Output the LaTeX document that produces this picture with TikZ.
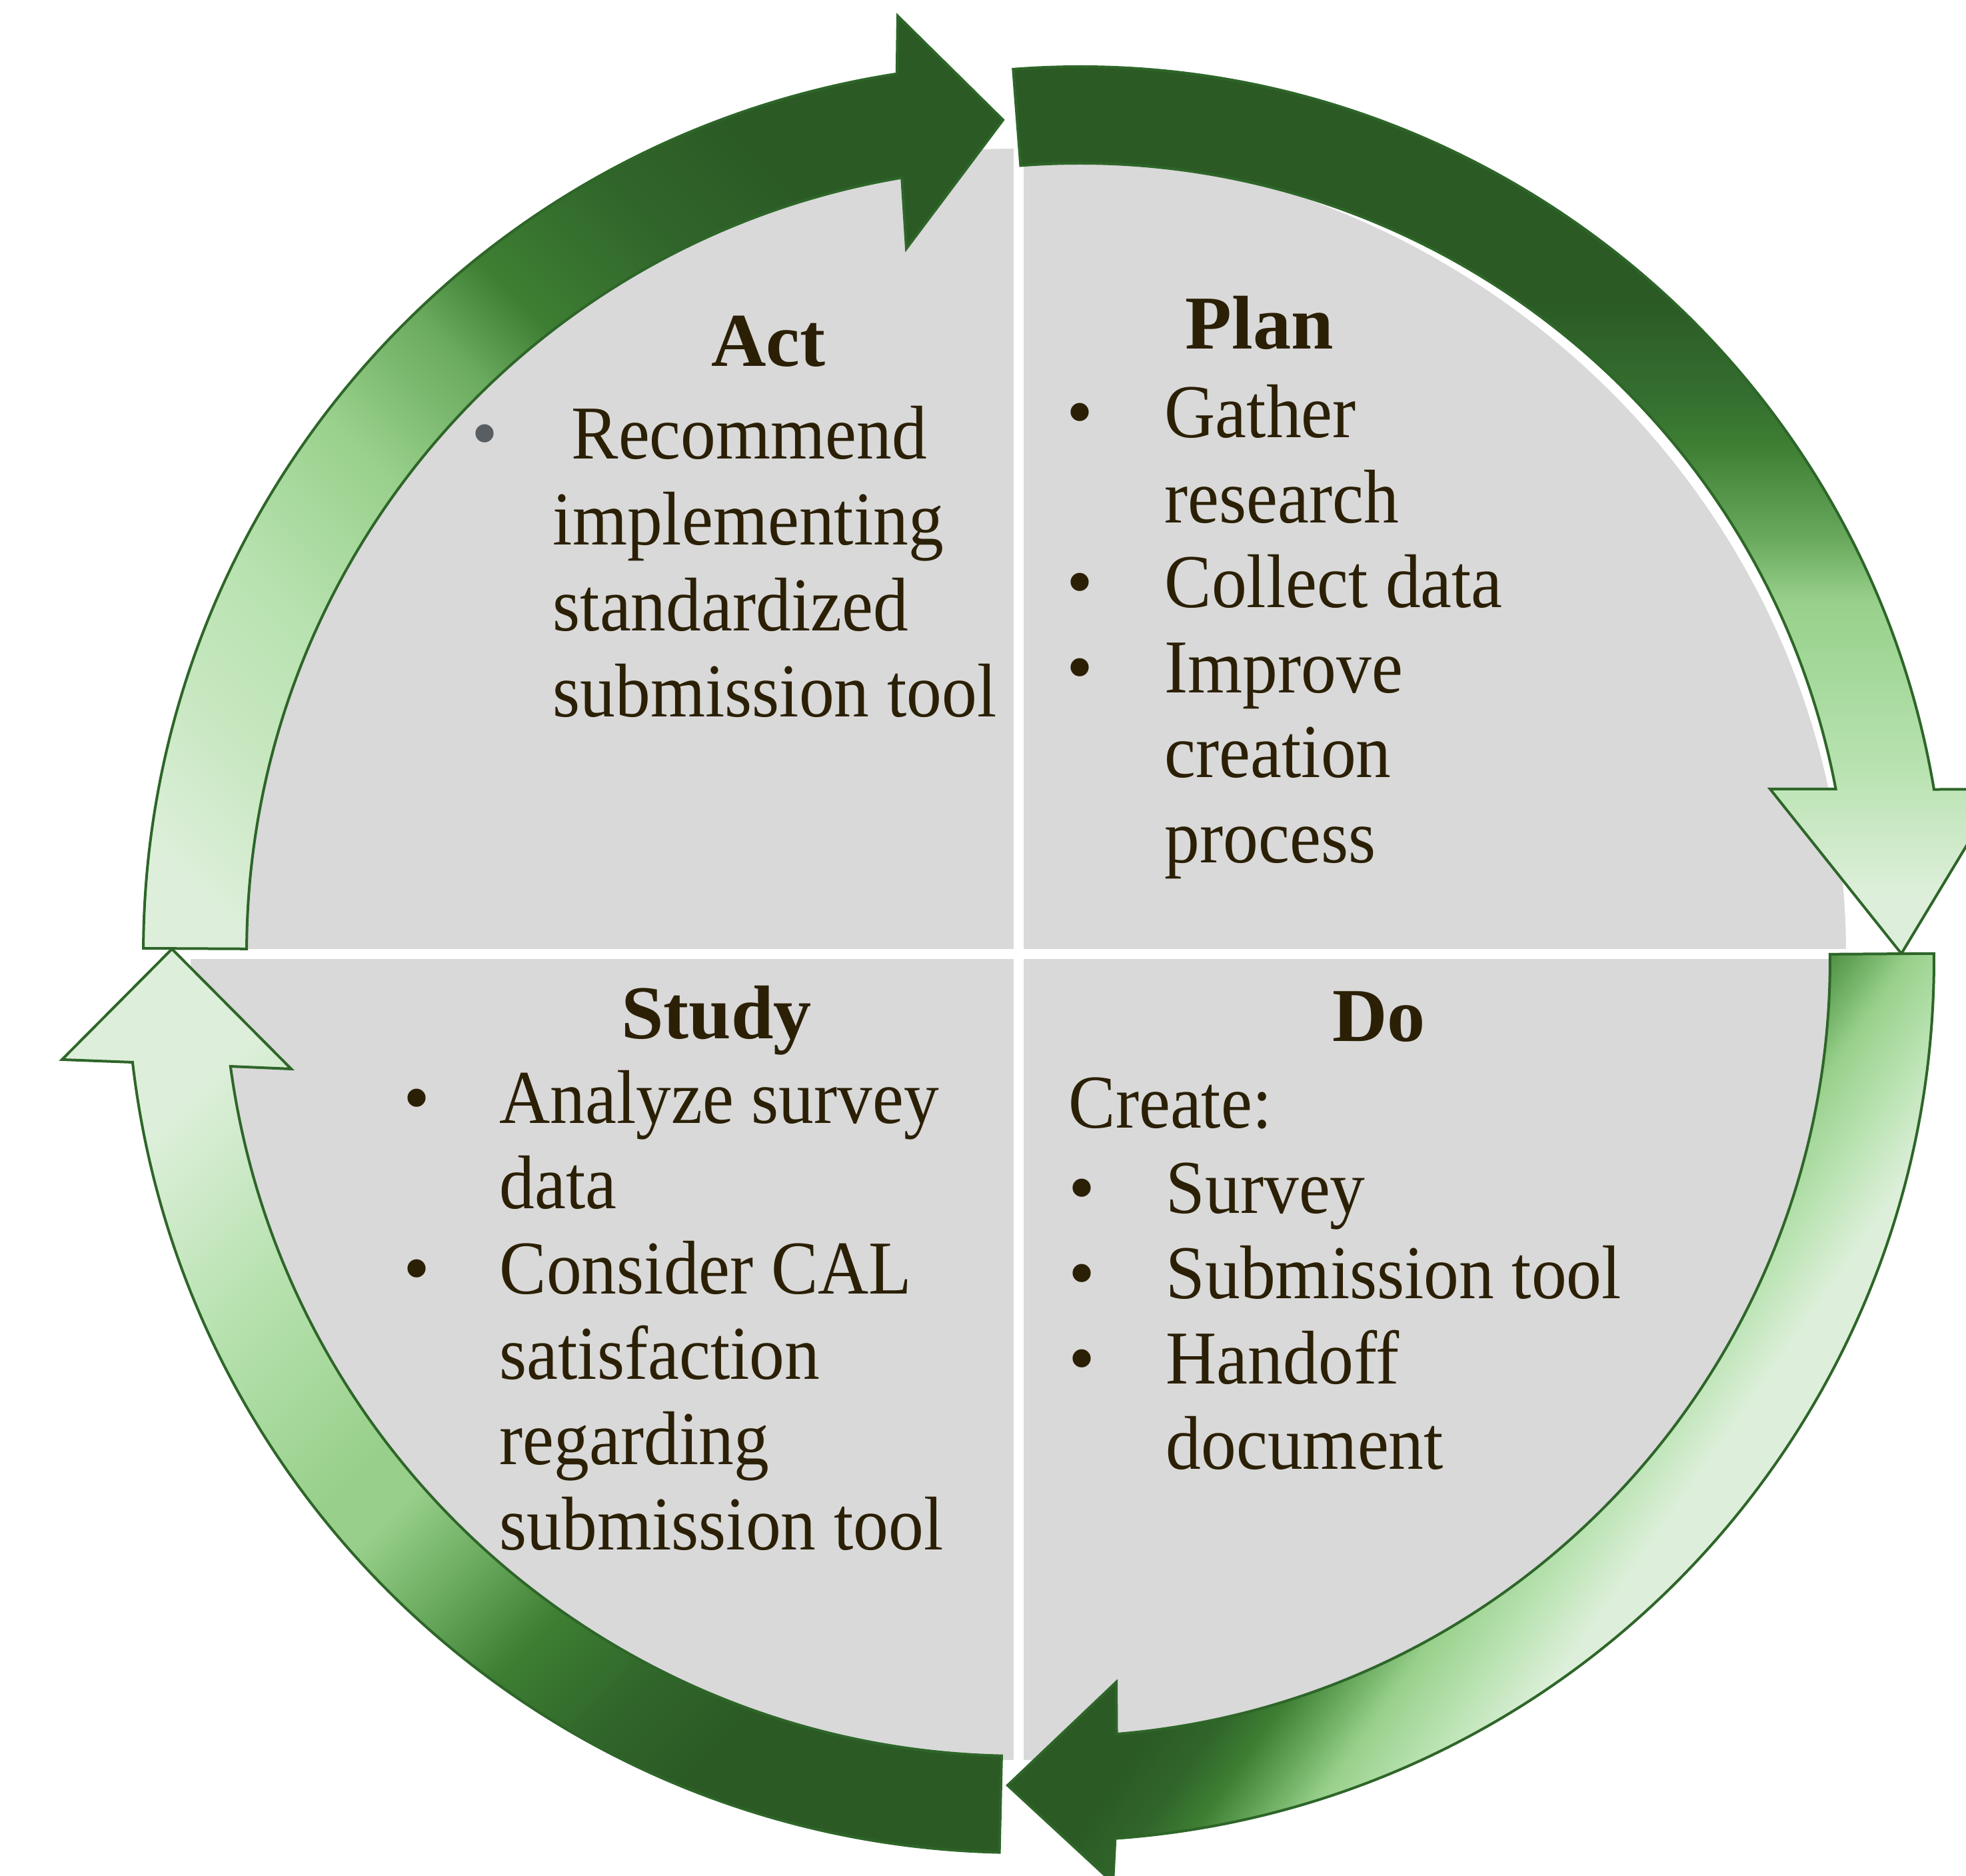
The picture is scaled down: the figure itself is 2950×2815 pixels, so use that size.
\documentclass[tikz,border=0pt]{standalone}
\usepackage{fontspec}
\setmainfont{Liberation Serif}
\newfontfamily\bodyfont[FakeStretch=0.924]{Liberation Serif}
\usetikzlibrary{calc}

\definecolor{gdark}{RGB}{43,90,37}
\definecolor{gdarkish}{RGB}{48,101,42}
\definecolor{gmidd}{RGB}{53,112,48}
\definecolor{gmed}{RGB}{62,127,51}
\definecolor{gmix}{RGB}{106,170,94}
\definecolor{glight}{RGB}{152,208,139}
\definecolor{glighter}{RGB}{163,216,153}
\definecolor{gsoft}{RGB}{184,226,176}
\definecolor{gsofter}{RGB}{200,231,193}
\definecolor{gpale}{RGB}{221,239,218}
\definecolor{rimgreen}{RGB}{46,102,41}
\definecolor{quadgray}{RGB}{217,217,217}
\definecolor{txtbrown}{RGB}{43,32,6}
\definecolor{dotgray}{RGB}{89,94,99}

% gradients of the four arrows
\pgfdeclareverticalshading{plangrad}{100bp}{color(0bp)=(gpale); color(44.6bp)=(gpale);
  color(47.75bp)=(gsoft); color(50.25bp)=(glighter); color(51.9bp)=(glight);
  color(53.4bp)=(gmix); color(55.75bp)=(gmed); color(56.9bp)=(gmidd);
  color(59.4bp)=(gdark); color(100bp)=(gdark)}
\pgfdeclareverticalshading{dograd}{100bp}{color(0bp)=(gdark); color(48.2bp)=(gdark);
  color(49.55bp)=(gdarkish); color(50.63bp)=(gmed); color(51.72bp)=(gmix);
  color(52.72bp)=(glight); color(54.22bp)=(gsoft); color(55.88bp)=(gpale);
  color(100bp)=(gpale)}
\pgfdeclareverticalshading{actgrad}{100bp}{color(0bp)=(gpale); color(36.1bp)=(gpale);
  color(39.4bp)=(gsofter); color(42.7bp)=(gsoft); color(46.9bp)=(glight);
  color(50.23bp)=(gmix); color(52.23bp)=(gmed); color(56.07bp)=(gdarkish);
  color(59.4bp)=(gdark); color(100bp)=(gdark)}
\pgfdeclareverticalshading{studygrad}{100bp}{color(0bp)=(gpale); color(37.73bp)=(gpale);
  color(42.32bp)=(gsoft); color(47.4bp)=(glight); color(48.73bp)=(glight);
  color(51.15bp)=(gmix); color(53.43bp)=(gmed); color(56.4bp)=(gdarkish);
  color(58.8bp)=(gdark); color(100bp)=(gdark)}

\tikzset{
  arrow line/.style={draw=rimgreen, line width=0.4mm},
  plan fill/.style={path picture={\shade[shading=plangrad] (700,300) rectangle (3700,3300);}},
  do fill/.style={path picture={\shade[shading=dograd, shading angle=-125] (700,-785) rectangle (3700,2215);}},
  act fill/.style={path picture={\shade[shading=actgrad, shading angle=-45] (-650,600) rectangle (2350,3600);}},
  study fill/.style={path picture={\shade[shading=studygrad, shading angle=-135] (-650,-800) rectangle (2350,2200);}},
  head/.style={font=\fontsize{32.5pt}{36pt}\selectfont\bfseries, text=txtbrown, inner sep=0pt, anchor=base},
  body/.style={font=\bodyfont\fontsize{32.5pt}{36pt}\selectfont, text=txtbrown, inner sep=0pt, anchor=base west},
  dot/.style={font=\fontsize{32.5pt}{36pt}\selectfont, text=txtbrown, inner sep=0pt, anchor=base west},
}

% center, inner r, outer r, tail angle, outer end angle, inner end angle, head points, fill
\newcommand{\ringarrow}[8]{%
  \draw[arrow line, #8] ([shift={#1}]#4:#3) arc[start angle=#4, end angle=#5, radius=#3]
    -- #7 -- ([shift={#1}]#6:#2) arc[start angle=#6, end angle=#4, radius=#2] -- cycle;
}

\begin{document}
\begin{tikzpicture}[x=0.1mm, y=0.1mm]
\useasboundingbox (0,0) rectangle (2950,2815);
\coordinate (Q) at (1528,1383);

% four grey quarters
\fill[quadgray] (Q) ellipse [x radius=1245, y radius=1212];
\draw[white, line width=0.6mm] (Q) ellipse [x radius=1245, y radius=1212];
\draw[white, line width=1.5mm] ($(Q)+(0,1260)$) -- ($(Q)+(0,-1260)$);
\draw[white, line width=1.5mm] ($(Q)+(-1290,0)$) -- ($(Q)+(1290,0)$);

% cycle arrows
\ringarrow{(1620,1415)}{1155}{1300}{94.4}{9.54}{10.78}{(3002,1631) -- (2853,1384) -- (2656,1631)}{plan fill}
\ringarrow{(1580,1375)}{1166}{1322}{0.4}{-85.95}{-85.3}{(1670,-10) -- (1512,136) -- (1675,291)}{do fill}
\ringarrow{(1530,1375)}{1195}{1340}{-91.3}{-173.4}{-172.3}{(93,1225) -- (258,1391) -- (437,1211)}{study fill}
\ringarrow{(1550,1385)}{1180}{1335}{179.7}{98.8}{99.6}{(1347,2791) -- (1505,2635) -- (1360,2442)}{act fill}

% Plan
\node[head] (plan) at (1890,2291) {Plan};
\foreach \t [count=\i from 0] in {Gather, research, Collect data, Improve, creation, process}
  \node[body] (plan-\i) at (1747,{2158-127.5*\i}) {\t};
\foreach \i in {0,2,3}
  \node[dot] (plan-b\i) at (1600,{2158-127.5*\i}) {•};

% Do
\node[head] (do) at (2069,1252) {Do};
\node[body] (do-c) at (1603,1122) {Create:};
\foreach \t [count=\i from 0] in {Survey, Submission tool, Handoff, document}
  \node[body] (do-\i) at (1749,{994-128*\i}) {\t};
\foreach \i in {0,1,2}
  \node[dot] (do-b\i) at (1603,{994-128*\i}) {•};

% Study
\node[head] (study) at (1075,1256) {Study};
\foreach \t [count=\i from 0] in {Analyze survey, data, Consider CAL, satisfaction, regarding, submission tool}
  \node[body] (study-\i) at (749,{1129-128*\i}) {\t};
\foreach \i in {0,2}
  \node[dot] (study-b\i) at (605,{1129-128*\i}) {•};

% Act
\node[head] (act) at (1153,2265) {Act};
\node[dot, text=dotgray] (act-b0) at (707,2126) {•};
\node[body] (act-0) at (857,2126) {Recommend};
\foreach \t [count=\i from 1] in {implementing, standardized, submission tool}
  \node[body] (act-\i) at (829,{2126-129*\i}) {\t};
\end{tikzpicture}
\end{document}
